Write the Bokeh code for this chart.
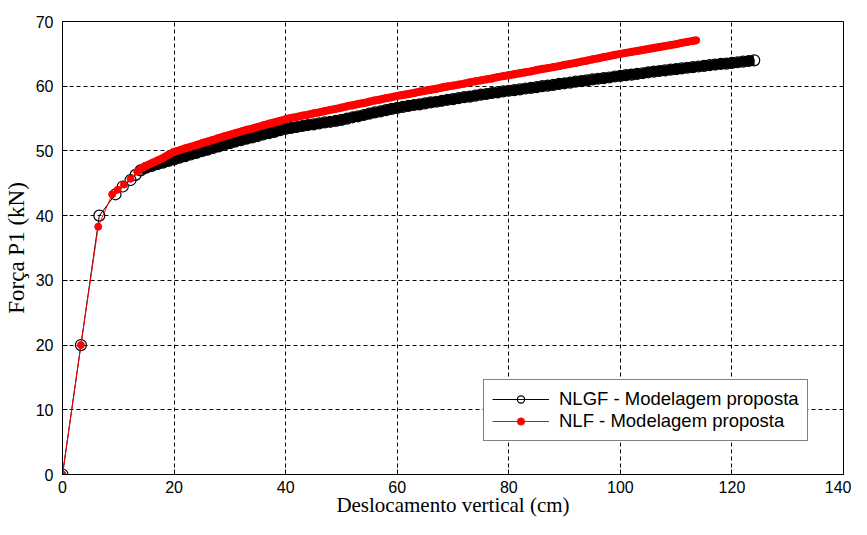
from bokeh.plotting import figure
from bokeh.models import Range1d, SingleIntervalTicker, Legend, LegendItem
from bokeh.embed import file_html
from bokeh.resources import INLINE

# ---------------- data ----------------
x_label = "Deslocamento vertical (cm)"
y_label = "Força P1 (kN)"
name_nlgf = "NLGF - Modelagem proposta"
name_nlf = "NLF - Modelagem proposta"

x_ticks_step = 20
y_ticks_step = 10

nlgf_x = [0, 3.3, 6.6, 9.5, 10.8, 12.2, 13.1,
          14, 15, 16, 17, 18, 19, 20, 21, 22, 23, 24, 25, 26, 27, 28, 29,
          30, 31, 32, 33, 34, 35, 36, 37, 38, 39, 40, 41, 42, 43, 44, 45,
          46, 47, 48, 49, 50, 51, 52, 53, 54, 55, 56, 57, 58, 59, 60, 61,
          62, 63, 64, 65, 66, 67, 68, 69, 70, 71, 72, 73, 74, 75, 76, 77,
          78, 79, 80, 81, 82, 83, 84, 85, 86, 87, 88, 89, 90, 91, 92, 93,
          94, 95, 96, 97, 98, 99, 100, 101, 102, 103, 104, 105, 106, 107,
          108, 109, 110, 111, 112, 113, 114, 115, 116, 117, 118, 119, 120,
          121, 122, 123, 124]
nlgf_y = [0, 20.0, 40.0, 43.3, 44.5, 45.5, 46.3,
          47.0, 47.4, 47.7, 47.95, 48.2, 48.45, 48.7, 48.95, 49.2, 49.45,
          49.7, 49.95, 50.2, 50.45, 50.7, 50.95,
          51.2, 51.45, 51.65, 51.9, 52.1, 52.3, 52.55, 52.75, 52.95, 53.2,
          53.4, 53.55, 53.7, 53.85, 54.0, 54.1,
          54.25, 54.4, 54.5, 54.65, 54.8, 55.0, 55.2, 55.35, 55.55, 55.75,
          55.95, 56.1, 56.3, 56.5, 56.65, 56.8,
          56.95, 57.1, 57.2, 57.35, 57.5, 57.6, 57.75, 57.9, 58.0, 58.15,
          58.3, 58.4, 58.55, 58.7, 58.8, 58.95,
          59.05, 59.2, 59.3, 59.4, 59.5, 59.65, 59.75, 59.85, 60.0, 60.1,
          60.2, 60.35, 60.45, 60.55, 60.7, 60.8,
          60.9, 61.05, 61.15, 61.25, 61.35, 61.5, 61.6, 61.7, 61.8, 61.9,
          62.0, 62.15, 62.25, 62.35,
          62.45, 62.55, 62.65, 62.75, 62.85, 62.95, 63.05, 63.15, 63.25,
          63.35, 63.45, 63.5, 63.6,
          63.7, 63.8, 63.9, 64.0]

nlf_x = [0, 3.3, 6.4, 8.9, 9.9, 11.0, 12.2, 13.4,
         14, 15, 16, 17, 18, 19, 20, 21, 22, 23, 24, 25, 26, 27, 28, 29,
         30, 31, 32, 33, 34, 35, 36, 37, 38, 39, 40, 41, 42, 43, 44, 45,
         46, 47, 48, 49, 50, 51, 52, 53, 54, 55, 56, 57, 58, 59, 60, 61,
         62, 63, 64, 65, 66, 67, 68, 69, 70, 71, 72, 73, 74, 75, 76, 77,
         78, 79, 80, 81, 82, 83, 84, 85, 86, 87, 88, 89, 90, 91, 92, 93,
         94, 95, 96, 97, 98, 99, 100, 101, 102, 103, 104, 105, 106, 107,
         108, 109, 110, 111, 112, 113, 113.6]
nlf_y = [0, 20.0, 38.3, 43.3, 44.0, 44.8, 45.7, 46.8,
         47.2, 47.7, 48.1, 48.5, 48.9, 49.4, 49.85, 50.1, 50.4, 50.65,
         50.9, 51.2, 51.45, 51.7, 52.0, 52.25,
         52.5, 52.75, 53.0, 53.25, 53.45, 53.7, 53.95, 54.2, 54.4, 54.65,
         54.9, 55.1, 55.25, 55.45, 55.6, 55.8,
         55.95, 56.15, 56.35, 56.5, 56.7, 56.9, 57.05, 57.25, 57.4, 57.6,
         57.8, 57.95, 58.15, 58.3, 58.5, 58.65,
         58.8, 58.95, 59.15, 59.3, 59.45, 59.6, 59.8, 59.95, 60.1, 60.25,
         60.4, 60.6, 60.75, 60.9, 61.05, 61.2,
         61.4, 61.55, 61.7, 61.85, 62.0, 62.15, 62.3, 62.5, 62.65, 62.8,
         62.95, 63.1, 63.3, 63.45, 63.6, 63.8,
         63.95, 64.15, 64.3, 64.5, 64.65, 64.85, 65.0, 65.15, 65.3, 65.45,
         65.6, 65.75, 65.9, 66.05,
         66.2, 66.35, 66.5, 66.7, 66.85, 67.0, 67.1]

# index where the densely sampled part of each curve starts
nlgf_dense = 7
nlf_dense = 8

# ---------------- figure ----------------
p = figure(width=851, height=519, output_backend="svg", toolbar_location=None,
           x_range=Range1d(0, 140), y_range=Range1d(0, 70),
           min_border_left=54, min_border_right=8, min_border_top=21,
           min_border_bottom=36)
p.background_fill_color = "white"
p.border_fill_color = "white"
p.outline_line_color = "black"
p.outline_line_width = 1

p.xaxis.ticker = SingleIntervalTicker(interval=x_ticks_step)
p.yaxis.ticker = SingleIntervalTicker(interval=y_ticks_step)

for ax in (p.xaxis[0], p.yaxis[0]):
    ax.axis_line_color = "black"
    ax.major_tick_in = 5
    ax.major_tick_out = 0
    ax.minor_tick_line_color = None
    ax.major_tick_line_color = "black"
    ax.major_label_text_font = "Liberation Sans"
    ax.major_label_text_font_size = "16px"
    ax.major_label_text_color = "black"
    ax.major_label_standoff = 5
    ax.axis_label_text_font = "Liberation Serif"
    ax.axis_label_text_font_style = "normal"
    ax.axis_label_text_color = "black"

p.xaxis.axis_label = x_label
p.yaxis.axis_label = y_label
p.xaxis.axis_label_text_font_size = "21px"
p.yaxis.axis_label_text_font_size = "23px"
p.xaxis.axis_label_standoff = -3
p.yaxis.axis_label_standoff = 4
p.xaxis.major_label_standoff = 2

for g in (p.xgrid[0], p.ygrid[0]):
    g.grid_line_color = "black"
    g.grid_line_alpha = 1.0
    g.grid_line_width = 1
    g.grid_line_dash = "4 3"

# black NLGF series: dense circle band + thin line + open circles
p.line(nlgf_x[nlgf_dense:], nlgf_y[nlgf_dense:], line_color="black", line_width=10)
l1 = p.line(nlgf_x, nlgf_y, line_color="black", line_width=1)
m1 = p.scatter(nlgf_x, nlgf_y, marker="circle", size=11, line_color="black",
               line_width=1.2, fill_alpha=0)

# red NLF series
p.line(nlf_x[nlf_dense:], nlf_y[nlf_dense:], line_color="red", line_width=8)
l2 = p.line(nlf_x, nlf_y, line_color="red", line_width=1)
m2 = p.scatter(nlf_x, nlf_y, marker="circle", size=7, line_color="red",
               fill_color="red")

legend = Legend(items=[LegendItem(label=name_nlgf, renderers=[l1, m1]),
                       LegendItem(label=name_nlf, renderers=[l2, m2])],
                location=(421, 33))
legend.border_line_color = "black"
legend.border_line_width = 1
legend.background_fill_color = "white"
legend.background_fill_alpha = 1
legend.label_text_font = "Liberation Sans"
legend.label_text_font_size = "18.5px"
legend.label_text_color = "black"
legend.glyph_width = 57
legend.glyph_height = 18
legend.label_height = 18
legend.label_standoff = 10
legend.spacing = 0
legend.padding = 8
legend.margin = 0
p.add_layout(legend, "center")

open("out.html", "w").write(file_html(p, INLINE))
